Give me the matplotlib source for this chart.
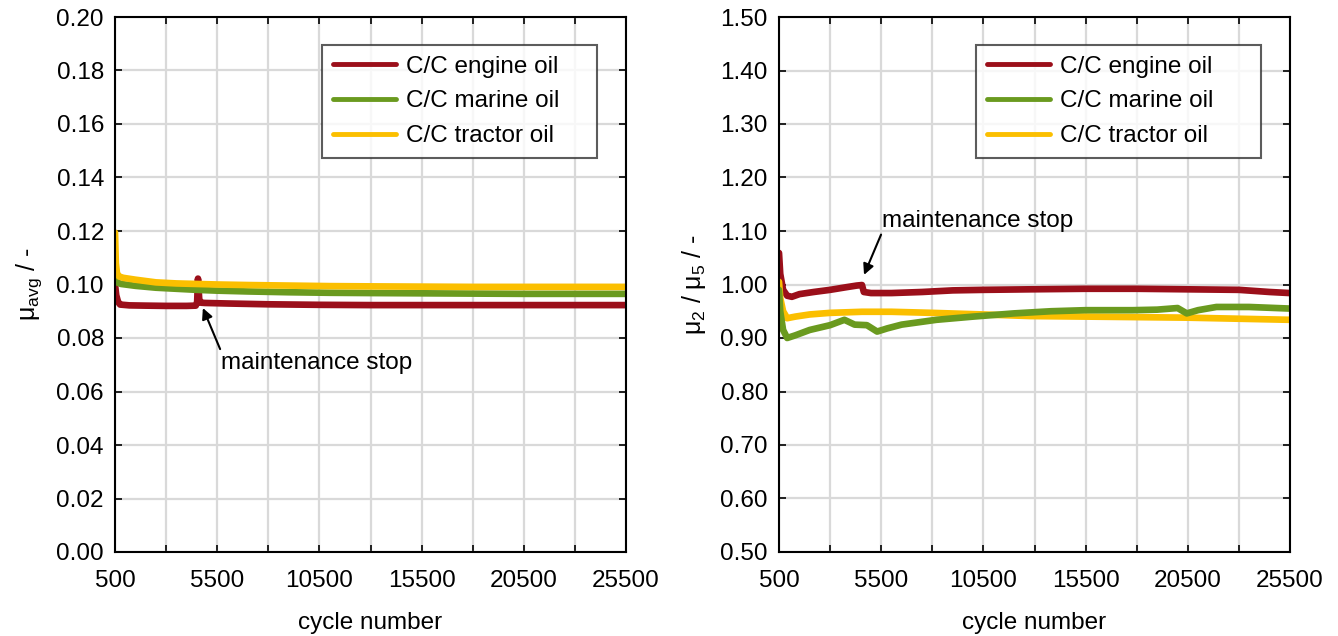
import matplotlib
matplotlib.use("Agg")
import matplotlib.pyplot as plt
from matplotlib.ticker import FixedLocator, MultipleLocator, FormatStrFormatter

plt.rcParams['font.family'] = ['Liberation Sans', 'DejaVu Sans']
plt.rcParams['mathtext.fontset'] = 'custom'
plt.rcParams['mathtext.rm'] = 'Liberation Sans'
plt.rcParams['mathtext.it'] = 'Liberation Sans:italic'

series_names = ["C/C engine oil", "C/C marine oil", "C/C tractor oil"]
colors = ["#9b0f1a", "#6a9a1f", "#fbbf00"]

# Left: mu_avg
left_engine_x = [500, 560, 650, 750, 1200, 2000, 3000, 4000, 4450, 4520, 4560, 4620, 4700, 4900, 6000, 8000, 10500, 13000, 15500, 18000, 20500, 23000, 25500]
left_engine_y = [0.1000, 0.0960, 0.0935, 0.0925, 0.0922, 0.0921, 0.0920, 0.0920, 0.0921, 0.0935, 0.1022, 0.0945, 0.0932, 0.0931, 0.0929, 0.0926, 0.0924, 0.0923, 0.0923, 0.0923, 0.0923, 0.0923, 0.0923]
left_marine_x = [500, 600, 800, 1500, 2500, 3500, 4500, 5500, 7000, 9000, 11000, 13000, 15500, 18000, 20500, 23000, 25500]
left_marine_y = [0.1017, 0.1008, 0.1002, 0.0995, 0.0988, 0.0984, 0.0980, 0.0977, 0.0974, 0.0971, 0.0969, 0.0968, 0.0967, 0.0966, 0.0965, 0.0965, 0.0965]
left_tractor_x = [500, 540, 600, 700, 900, 1500, 2500, 3500, 4500, 5500, 7000, 9000, 11000, 13000, 15500, 18000, 20500, 23000, 25500]
left_tractor_y = [0.1194, 0.1080, 0.1040, 0.1030, 0.1025, 0.1018, 0.1008, 0.1004, 0.1002, 0.1000, 0.0998, 0.0996, 0.0994, 0.0993, 0.0992, 0.0991, 0.0991, 0.0991, 0.0991]

# Right: mu2 / mu5
right_engine_x = [500, 560, 700, 900, 1130, 1500, 2200, 3000, 3800, 4300, 4560, 4650, 5000, 6000, 7500, 9000, 10500, 12800, 15500, 18000, 20500, 23000, 24500, 25500]
right_engine_y = [1.059, 1.020, 0.990, 0.979, 0.977, 0.982, 0.986, 0.990, 0.995, 0.998, 0.999, 0.986, 0.984, 0.984, 0.986, 0.989, 0.990, 0.991, 0.992, 0.992, 0.991, 0.990, 0.986, 0.984]
right_marine_x = [500, 560, 700, 900, 1300, 2000, 3000, 3700, 4200, 4800, 5300, 5800, 6500, 8200, 10000, 12000, 13800, 15500, 17800, 19000, 20000, 20450, 21000, 21900, 23500, 25500]
right_marine_y = [0.990, 0.950, 0.915, 0.900, 0.905, 0.915, 0.924, 0.934, 0.925, 0.924, 0.912, 0.918, 0.925, 0.934, 0.940, 0.946, 0.950, 0.952, 0.952, 0.953, 0.956, 0.946, 0.952, 0.958, 0.958, 0.955]
right_tractor_x = [500, 560, 700, 900, 1300, 2000, 3000, 4560, 6000, 8000, 10500, 12800, 15500, 18000, 20500, 23000, 25500]
right_tractor_y = [1.005, 0.975, 0.950, 0.937, 0.940, 0.944, 0.947, 0.949, 0.949, 0.947, 0.944, 0.941, 0.940, 0.939, 0.938, 0.936, 0.934]

xticks = [500, 5500, 10500, 15500, 20500, 25500]
xminor = [3000, 8000, 13000, 18000, 23000]

fig = plt.figure(figsize=(13.38, 6.36), dpi=100)
axL = fig.add_axes([115/1338, 84/636, 511/1338, 535/636])
axR = fig.add_axes([779/1338, 84/636, 511/1338, 535/636])

FS = 17.5
lw = 4.8

def style(ax, ylim, ystep):
    ax.set_xlim(500, 25500)
    ax.set_ylim(*ylim)
    ax.set_xticks(xticks)
    ax.xaxis.set_minor_locator(FixedLocator(xminor))
    ax.yaxis.set_major_locator(MultipleLocator(ystep))
    ax.yaxis.set_major_formatter(FormatStrFormatter('%.2f'))
    ax.grid(True, which='major', color='#d9d9d9', lw=1.6, zorder=0)
    ax.grid(True, which='minor', axis='x', color='#d9d9d9', lw=1.6, zorder=0)
    ax.tick_params(which='both', direction='in', top=True, right=True, length=5, width=1.2, labelsize=FS)
    ax.tick_params(axis='x', which='major', pad=13)
    ax.tick_params(axis='y', which='major', pad=8)
    for s in ax.spines.values():
        s.set_linewidth(1.5)
        s.set_color('black')
    ax.set_xlabel('cycle number', fontsize=FS, labelpad=14)
    ax.set_axisbelow(True)

style(axL, (0.0, 0.2), 0.02)
style(axR, (0.5, 1.5), 0.1)

legend_boxes = {0: (0.405, 0.742, 0.538, 0.206), 1: (0.386, 0.742, 0.558, 0.206)}

for k, (ax, data, order) in enumerate([(axL, [(left_engine_x, left_engine_y), (left_marine_x, left_marine_y), (left_tractor_x, left_tractor_y)], [0, 1, 2]),
                        (axR, [(right_engine_x, right_engine_y), (right_marine_x, right_marine_y), (right_tractor_x, right_tractor_y)], [0, 2, 1])]):
    lines = {}
    for i in order:
        x, y = data[i]
        lines[i], = ax.plot(x, y, color=colors[i], lw=lw, solid_capstyle='round', solid_joinstyle='round')
    leg = ax.legend([lines[0], lines[1], lines[2]], series_names, loc='upper left', bbox_to_anchor=legend_boxes[k],
                    mode='expand', fontsize=FS, frameon=True, fancybox=False, handlelength=2.6, borderpad=0.45,
                    labelspacing=0.52, handletextpad=0.4, borderaxespad=0)
    leg.get_frame().set_edgecolor('#333333')
    leg.get_frame().set_linewidth(1.5)
    for l in leg.get_lines():
        l.set_linewidth(3.5)

axL.set_ylabel(r'μ$_\mathrm{avg}$ / -', fontsize=FS + 0.5, labelpad=9)
axR.set_ylabel(r'μ$_\mathrm{2}$ / μ$_\mathrm{5}$ / -', fontsize=FS + 0.5, labelpad=9)

axL.annotate('maintenance stop', xy=(4800, 0.0912), xytext=(5700, 0.0707), fontsize=FS,
             ha='left', va='center',
             arrowprops=dict(arrowstyle='-|>', color='black', lw=1.5, mutation_scale=16, shrinkA=0, shrinkB=0,
                             relpos=(0.0, 1.0)))
axR.annotate('maintenance stop', xy=(4660, 1.018), xytext=(5550, 1.119), fontsize=FS,
             ha='left', va='center',
             arrowprops=dict(arrowstyle='-|>', color='black', lw=1.5, mutation_scale=16, shrinkA=0, shrinkB=0,
                             relpos=(0.0, 0.0)))

fig.savefig('out.png', dpi=100)
